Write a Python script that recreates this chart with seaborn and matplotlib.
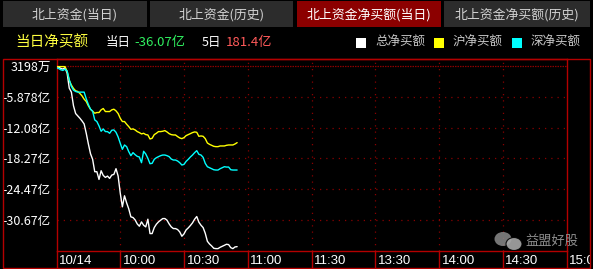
import matplotlib
matplotlib.use("Agg")
import matplotlib.pyplot as plt
import numpy as np
import pandas as pd
import seaborn as sns
from matplotlib.patches import Rectangle, Ellipse
from matplotlib.lines import Line2D
from matplotlib.transforms import Bbox, TransformedBbox

# ---------------- data (minutes after 9:30, values in 亿) ----------------
minutes = list(range(0, 86))
total = [0.32, 0.19, -0.08, -0.21, 0.06, -1.02, -4.06, -4.87, -7.64, -9.19,
         -9.67, -10.14, -10.68, -11.29, -13.18, -15.34, -17.30, -18.44, -20.94, -20.94,
         -22.50, -20.74, -21.69, -22.09, -21.82, -22.29, -21.62, -21.48, -20.33, -21.82,
         -25.26, -28.03, -25.80, -27.22, -28.44, -30.06, -30.19, -30.67, -31.48, -31.95,
         -31.07, -31.75, -32.08, -30.53, -33.43, -33.43, -32.22, -31.54, -31.07, -30.73,
         -30.40, -30.40, -30.73, -31.48, -32.08, -32.42, -32.42, -32.62, -33.10, -33.97,
         -33.50, -32.69, -32.29, -31.81, -31.27, -30.53, -29.99, -31.14, -31.75, -32.22,
         -33.37, -34.99, -35.53, -35.93, -36.40, -36.47, -36.47, -36.20, -36.00, -35.80,
         -35.59, -35.66, -36.27, -36.47, -36.13, -36.07]
shanghai = [0.28, 0.28, 0.28, 0.28, 0.28, -0.69, -2.51, -3.45, -4.13, -4.60,
            -4.74, -5.14, -5.62, -6.29, -6.76, -7.64, -8.32, -8.72, -9.13, -8.99,
            -8.99, -8.45, -8.18, -8.79, -8.79, -8.79, -8.45, -8.32, -8.65, -9.19,
            -10.14, -10.81, -10.81, -11.35, -11.83, -12.37, -12.30, -12.50, -12.84, -13.04,
            -13.31, -13.18, -13.45, -13.52, -14.33, -14.19, -13.45, -13.18, -12.84, -12.84,
            -12.77, -12.64, -12.91, -13.25, -13.45, -13.52, -13.52, -13.85, -14.12, -14.26,
            -14.06, -13.65, -13.45, -13.25, -13.04, -12.91, -12.98, -13.79, -13.72, -13.79,
            -14.26, -15.14, -15.41, -15.61, -15.81, -15.88, -15.88, -15.74, -15.74, -15.74,
            -15.61, -15.54, -15.54, -15.54, -15.34, -15.07]
shenzhen = [0.04, -0.09, -0.36, -0.49, -0.22, -0.60, -2.37, -3.72, -4.47, -4.74,
            -4.87, -4.87, -4.87, -4.87, -6.22, -7.37, -8.32, -8.72, -10.48, -10.81,
            -11.69, -12.77, -12.30, -12.84, -12.84, -13.18, -12.57, -12.50, -12.98, -13.92,
            -15.20, -16.42, -15.54, -15.88, -16.89, -17.70, -17.09, -17.50, -17.84, -17.97,
            -19.12, -16.82, -17.36, -18.24, -19.32, -19.25, -18.44, -18.11, -17.90, -17.70,
            -17.57, -17.57, -17.70, -17.90, -18.38, -18.58, -18.58, -18.78, -19.12, -19.59,
            -19.46, -18.85, -18.44, -17.97, -17.57, -17.09, -16.69, -17.43, -17.57, -18.04,
            -19.25, -19.93, -20.13, -20.33, -20.54, -20.60, -20.60, -20.33, -20.13, -19.93,
            -20.00, -20.00, -20.54, -20.60, -20.60, -20.60]

series_names = ["总净买额", "沪净买额", "深净买额"]
series_colors = ["#ffffff", "#ffff00", "#00ffff"]

ytick_values = [0.3198, -5.878, -12.08, -18.27, -24.47, -30.67]
ytick_labels = ["3198万", "-5.878亿", "-12.08亿", "-18.27亿", "-24.47亿", "-30.67亿"]
xtick_values = [0, 30, 60, 90, 120, 150, 180, 210, 240]
xtick_labels = ["10/14", "10:00", "10:30", "11:00", "11:30", "13:30", "14:00", "14:30", "15:00"]
tab_labels = ["北上资金(当日)", "北上资金(历史)", "北上资金净买额(当日)", "北上资金净买额(历史)"]
today_value = "-36.07亿"
five_day_value = "181.4亿"

# ---------------- styling ----------------
sns.set_theme(style="dark")
plt.rcParams['font.family'] = ['Noto Sans CJK SC', 'DejaVu Sans']

RED = "#b40000"
GRID = "#8a0000"
W, H = 593, 269

fig = plt.figure(figsize=(W / 100, H / 100), dpi=100, facecolor="black")


def fx(px):
    return px / W


def fy(py):
    return 1 - py / H


# tabs
tab_x = [(3, 147), (150, 293), (297, 441), (444, 590)]
for i, (name, (x0, x1)) in enumerate(zip(tab_labels, tab_x)):
    fc = "#8c0000" if i == 2 else "#2c2c2c"
    fig.add_artist(Rectangle((fx(x0), fy(27)), (x1 - x0) / W, 26 / H,
                             transform=fig.transFigure, facecolor=fc, edgecolor="none"))
    fig.text(fx((x0 + x1) / 2), fy(15), name, color="#ffffff" if i == 2 else "#d2d2d2",
             ha="center", va="center", fontsize=9.3)

# header line
fig.text(fx(15), fy(42), "当日净买额", color="#ffff40", fontsize=10.5, va="center")
fig.text(fx(106), fy(42), "当日", color="white", fontsize=9, va="center")
fig.text(fx(134), fy(42), today_value, color="#30f060", fontsize=9.5, va="center")
fig.text(fx(202), fy(42), "5日", color="white", fontsize=9, va="center")
fig.text(fx(226), fy(42), five_day_value, color="#ff5a5a", fontsize=9.5, va="center")

legend_x = [356, 434, 512]
for lx, name, col in zip(legend_x, series_names, series_colors):
    fig.add_artist(Rectangle((fx(lx), fy(47.5)), 10 / W, 10 / H, transform=fig.transFigure,
                             facecolor=col, edgecolor="none"))
    fig.text(fx(lx + 19), fy(42), name, color="#c8c8c8", fontsize=9, va="center")

# main axes
ax = fig.add_axes([fx(56.5), fy(251), (566.5 - 56.5) / W, (251 - 58.6) / H])
ax.set_facecolor("black")

df = pd.DataFrame({
    "minute": minutes * 3,
    "value": total + shanghai + shenzhen,
    "series": [series_names[0]] * len(minutes) + [series_names[1]] * len(minutes)
              + [series_names[2]] * len(minutes),
})

for j, yv in enumerate(ytick_values):
    if j == 0:
        ax.axhline(yv, color=GRID, lw=0.9, dashes=(1.2, 0.8), zorder=1)
    else:
        ax.axhline(yv, color=GRID, lw=0.9, dashes=(1, 4), zorder=1)
for xv in xtick_values[1:-1]:
    ax.axvline(xv, color=GRID, lw=0.9, dashes=(1, 4), zorder=1)

sns.lineplot(data=df, x="minute", y="value", hue="series", hue_order=series_names,
             palette=dict(zip(series_names, series_colors)), linewidth=1.0,
             estimator=None, legend=False, ax=ax, zorder=3)

ax.set_xlim(0, 240)
ax.set_ylim(-36.95, 1.9)
ax.set_xlabel("")
ax.set_ylabel("")
ax.grid(False)
ax.set_xticks([])
ax.set_yticks(ytick_values)
ax.set_yticklabels(ytick_labels)
ax.tick_params(axis="y", length=0, pad=4, labelcolor="white", labelsize=9)
for sp in ax.spines.values():
    sp.set_color(RED)
    sp.set_linewidth(1.0)
    sp.set_visible(True)

# x-axis label row
clip = TransformedBbox(Bbox([[fx(3), 0], [fx(590), 1]]), fig.transFigure)
xt = ax.get_xaxis_transform()
ax.vlines(xtick_values, -0.088, 0, transform=xt, colors=RED, lw=1.0, clip_on=False)
for xv, lab in zip(xtick_values, xtick_labels):
    t = ax.text(xv + 1.2, -0.052, lab, transform=xt, ha="left", va="center",
                color="white", fontsize=9.5, family="Liberation Sans")
    t.set_clip_box(clip)
    t.set_clip_on(True)

# outer frame
fig.add_artist(Rectangle((fx(3), fy(268)), (590 - 3) / W, (268 - 58.6) / H,
                         transform=fig.transFigure, fill=False, edgecolor=RED, lw=1.0))

# watermark
fig.add_artist(Ellipse((fx(503), fy(239)), 17 / W, 14 / H, transform=fig.transFigure,
                       facecolor="#8a8a8a", edgecolor="none", alpha=0.85, zorder=5))
fig.add_artist(Ellipse((fx(514), fy(244)), 16 / W, 13 / H, transform=fig.transFigure,
                       facecolor="#a8a8a8", edgecolor="black", lw=0.8, alpha=0.9, zorder=6))
fig.text(fx(525), fy(241), "益盟好股", color="#8c8c8c", fontsize=9.5, va="center", zorder=6)

fig.savefig("out.png", dpi=100, facecolor="black")
